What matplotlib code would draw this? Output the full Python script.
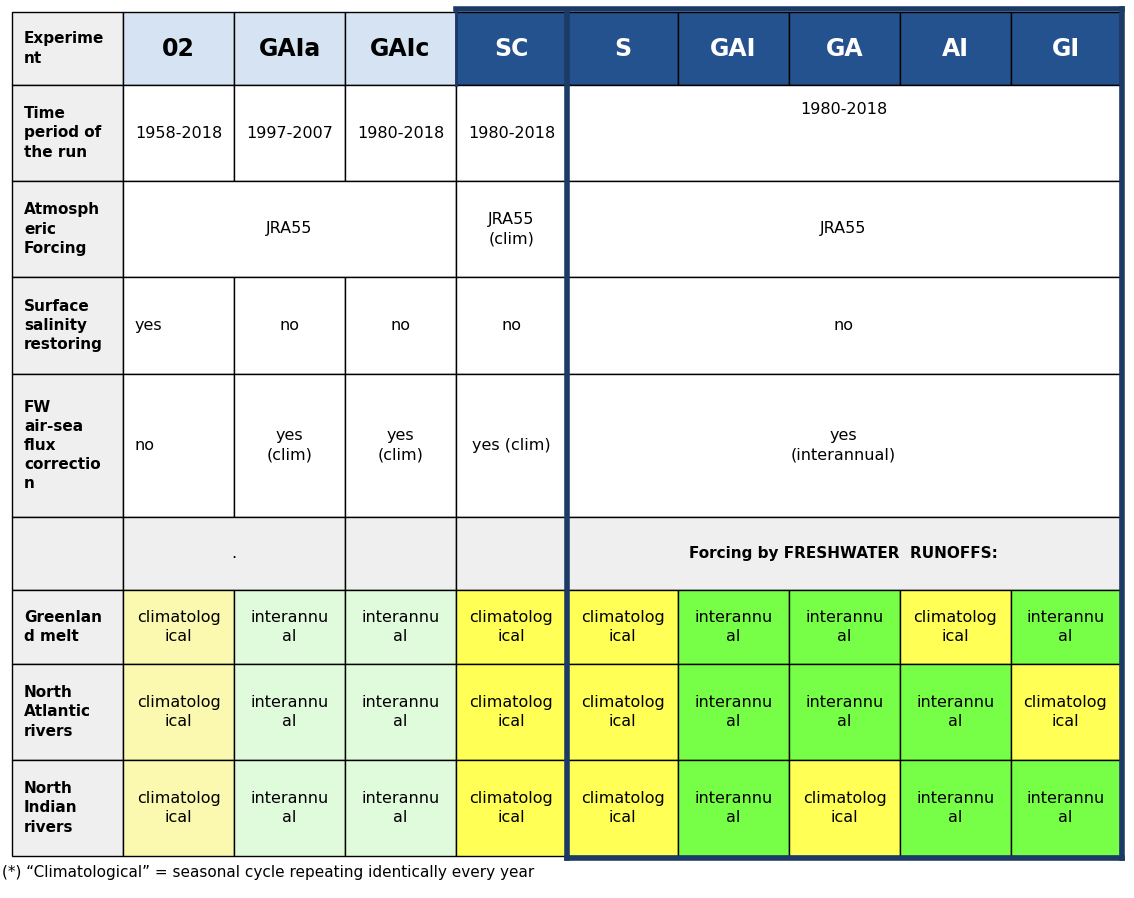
import matplotlib.pyplot as plt
from matplotlib.patches import Rectangle

experiments = ["02", "GAIa", "GAIc", "SC", "S", "GAI", "GA", "AI", "GI"]
row_labels = ["Experime\nnt", "Time\nperiod of\nthe run", "Atmosph\neric\nForcing",
              "Surface\nsalinity\nrestoring", "FW\nair-sea\nflux\ncorrectio\nn", "",
              "Greenlan\nd melt", "North\nAtlantic\nrivers", "North\nIndian\nrivers"]
time_period = ["1958-2018", "1997-2007", "1980-2018", "1980-2018"]
salinity = ["yes", "no", "no", "no"]
fw_flux = ["no", "yes\n(clim)", "yes\n(clim)", "yes (clim)"]
# C = climatological, I = interannual
runoff = {
    "Greenland melt":  ["C", "I", "I", "C", "C", "I", "I", "C", "I"],
    "N Atlantic":      ["C", "I", "I", "C", "C", "I", "I", "I", "C"],
    "N Indian":        ["C", "I", "I", "C", "C", "I", "C", "I", "I"],
}

xs = [12, 123, 234, 345, 456, 567, 678, 789, 900, 1011, 1120]
ys = [12, 85, 181, 277, 374, 517, 590, 664, 760, 856]

GRAY = "#efefef"
LBLUE = "#d5e3f2"
DBLUE = "#24528f"
LY, LG = "#fbf8b0", "#e0fbdc"
Y, G = "#ffff55", "#77ff47"

fig = plt.figure(figsize=(11.34, 8.98), dpi=100)
ax = fig.add_axes([0, 0, 1, 1])
ax.set_xlim(0, 1134)
ax.set_ylim(898, 0)
ax.axis("off")
FONT = "DejaVu Sans"

def cell(c0, c1, r, color="white", text="", bold=False, size=11.5, tc="black", ha="center"):
    x0, x1 = xs[c0], xs[c1]
    y0, y1 = ys[r], ys[r + 1]
    ax.add_patch(Rectangle((x0, y0), x1 - x0, y1 - y0, fc=color, ec="black", lw=1))
    if text:
        tx = (x0 + x1) / 2 if ha == "center" else x0 + 12
        ax.text(tx, (y0 + y1) / 2, text, ha=ha, va="center", fontsize=size,
                fontweight="bold" if bold else "normal", color=tc, linespacing=1.35)

# first column
for r, lab in enumerate(row_labels):
    cell(0, 1, r, GRAY, lab, bold=True, size=11, ha="left")

# header
for i, e in enumerate(experiments):
    dark = i >= 3
    cell(i + 1, i + 2, 0, DBLUE if dark else LBLUE, e, bold=True, size=17,
         tc="white" if dark else "black")

# time period
for i, t in enumerate(time_period):
    cell(i + 1, i + 2, 1, text=t)
cell(5, 10, 1)
ax.text((xs[5] + xs[10]) / 2, ys[1] + 25, "1980-2018", ha="center", va="center", fontsize=11.5)

# atmospheric forcing
cell(1, 4, 2, text="JRA55")
cell(4, 5, 2, text="JRA55\n(clim)")
cell(5, 10, 2, text="JRA55")

# salinity
for i, s in enumerate(salinity):
    cell(i + 1, i + 2, 3, text=s, ha="left" if i == 0 else "center")
cell(5, 10, 3, text="no")

# fw flux
for i, s in enumerate(fw_flux):
    cell(i + 1, i + 2, 4, text=s, ha="left" if i == 0 else "center")
cell(5, 10, 4, text="yes\n(interannual)")

# separator row
cell(1, 3, 5, GRAY, ".")
cell(3, 4, 5, GRAY)
cell(4, 5, 5, GRAY)
cell(5, 10, 5, GRAY, "Forcing by FRESHWATER  RUNOFFS:", bold=True, size=11)

# runoff rows
for r, vals in enumerate(runoff.values()):
    for i, v in enumerate(vals):
        if i < 3:
            col = LY if v == "C" else LG
        else:
            col = Y if v == "C" else G
        txt = "climatolog\nical" if v == "C" else "interannu\nal"
        cell(i + 1, i + 2, 6 + r, col, txt)

# thick dark blue frame
kw = dict(color="#1c3a66", lw=4, solid_capstyle="projecting")
ax.plot([xs[4], 1122], [9, 9], **kw)
ax.plot([1122, 1122], [9, 858], **kw)
ax.plot([xs[5], 1122], [858, 858], **kw)
ax.plot([xs[5], xs[5]], [ys[0], 858], **kw)
ax.plot([xs[4], xs[4]], [9, ys[1]], color="#1c3a66", lw=2)

ax.text(2, 873, "(*) \u201cClimatological\u201d = seasonal cycle repeating identically every year",
        ha="left", va="center", fontsize=11)

fig.savefig("out.png", dpi=100)
